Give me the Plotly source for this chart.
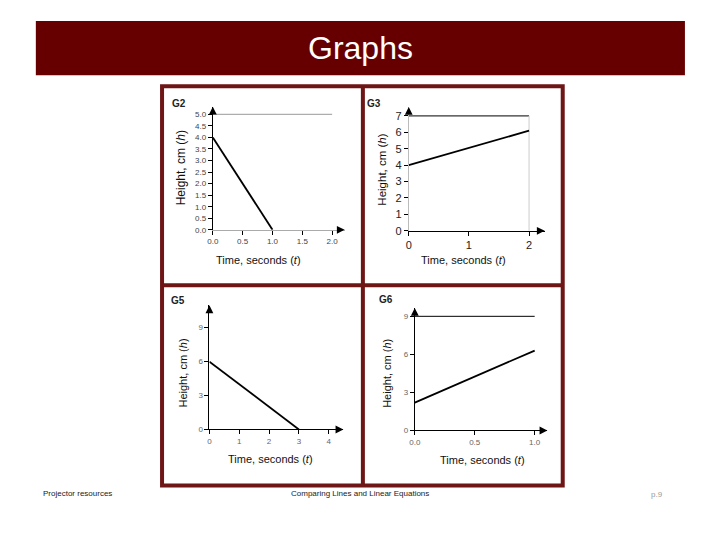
import plotly.graph_objects as go

# ---------------- data ----------------
g2_t = [0.0, 1.0]
g2_h = [4.0, 0.0]
g2_xticks = [0.0, 0.5, 1.0, 1.5, 2.0]
g2_yticks = [0.0, 0.5, 1.0, 1.5, 2.0, 2.5, 3.0, 3.5, 4.0, 4.5, 5.0]

g3_t = [0, 2]
g3_h = [4.0, 6.1]
g3_xticks = [0, 1, 2]
g3_yticks = [0, 1, 2, 3, 4, 5, 6, 7]

g5_t = [0, 3]
g5_h = [6, 0]
g5_xticks = [0, 1, 2, 3, 4]
g5_yticks = [0, 3, 6, 9]

g6_t = [0.0, 1.0]
g6_h = [2.2, 6.3]
g6_xticks = [0.0, 0.5, 1.0]
g6_yticks = [0, 3, 6, 9]

panel_names = ["G2", "G3", "G5", "G6"]
x_title = "Time, seconds (<i>t</i>)"
y_title = "Height, cm (<i>h</i>)"
slide_title = "Graphs"
footer_left = "Projector resources"
footer_center = "Comparing Lines and Linear Equations"
footer_right = "p.9"

# ---------------- layout helpers ----------------
W, H = 720, 540
# page placement correction (figure pixel -> photographed pixel)
SX, OX = 0.99, 14.2
SY, OY = 0.988, 7.9
def fx(x):
    return ((x - OX) / SX) / W
def fy(y):
    return 1 - ((y - OY) / SY) / H

FONT = "Liberation Sans, Arial, sans-serif"
MAROON = "#660000"
FRAME = "#6e1515"

panels = [
    dict(t=g2_t, h=g2_h, xt=g2_xticks, yt=g2_yticks, xdom=(212.7, 344.3), ydom=(229.5, 106.5),
         xmax=2.21, ymax=5.33, fmt=".1f", yfmt=".1f", tsize=8, tcol="#444444",
         xline="#aaaaaa", yline="#000000", top=("#999999", None),
         label=(179, 103), ytl=(181, 168), xtl=(258, 260), ytsize=12),
    dict(t=g3_t, h=g3_h, xt=g3_xticks, yt=g3_yticks, xdom=(408.3, 544.0), ydom=(230.5, 106.7),
         xmax=2.26, ymax=7.55, fmt="d", yfmt="d", tsize=11, tcol="#222222",
         xline="#000000", yline="#bbbbbb", top=("#000000", "#cccccc"),
         label=(374, 103), ytl=(382, 169), xtl=(463, 260), ytsize=11.5),
    dict(t=g5_t, h=g5_h, xt=g5_xticks, yt=g5_yticks, xdom=(209.3, 343.0), ydom=(429.0, 305.0),
         xmax=4.49, ymax=10.97, fmt="d", yfmt="d", tsize=8, tcol="#666666",
         xline="#000000", yline="#000000", top=None,
         label=(178, 300), ytl=(183, 373), xtl=(270, 458), ytsize=11),
    dict(t=g6_t, h=g6_h, xt=g6_xticks, yt=g6_yticks, xdom=(414.3, 546.7), ydom=(430.0, 307.7),
         xmax=1.106, ymax=9.65, fmt=".1f", yfmt="d", tsize=8, tcol="#666666",
         xline="#000000", yline="#000000", top=("#000000", None),
         label=(386, 299), ytl=(387, 373), xtl=(482, 459), ytsize=11),
]

fig = go.Figure()
layout = dict(width=W, height=H, margin=dict(l=0, r=0, t=0, b=0),
              paper_bgcolor="white", plot_bgcolor="rgba(0,0,0,0)",
              showlegend=False, font=dict(family=FONT, color="#000000"))
annotations = []
shapes = []

def txt(x, y, text, size, color, family=FONT, xanchor="center", angle=0):
    return dict(x=fx(x), y=fy(y), xref="paper", yref="paper", text=text,
                xanchor=xanchor, yanchor="middle", textangle=angle, showarrow=False,
                font=dict(size=size, color=color, family=family))

for i, p in enumerate(panels):
    n = "" if i == 0 else str(i + 1)
    xa, ya = "x" + n, "y" + n
    # reference lines along top / right of the chart box
    if p["top"] is not None:
        tc, rc = p["top"]
        fig.add_trace(go.Scatter(x=[p["xt"][0], p["xt"][-1]], y=[p["yt"][-1], p["yt"][-1]],
                                 mode="lines", line=dict(color=tc, width=1),
                                 xaxis=xa, yaxis=ya, hoverinfo="skip"))
        if rc is not None:
            fig.add_trace(go.Scatter(x=[p["xt"][-1], p["xt"][-1]], y=[p["yt"][0], p["yt"][-1]],
                                     mode="lines", line=dict(color=rc, width=1),
                                     xaxis=xa, yaxis=ya, hoverinfo="skip"))
    # data line
    fig.add_trace(go.Scatter(x=p["t"], y=p["h"], mode="lines",
                             line=dict(color="#000000", width=1.8),
                             xaxis=xa, yaxis=ya, cliponaxis=False))
    common = dict(ticks="outside", ticklen=4, tickwidth=1, tickcolor="#000000",
                  showgrid=False, zeroline=False, showline=True, linewidth=1,
                  tickfont=dict(size=p["tsize"], color=p["tcol"], family=FONT))
    layout["xaxis" + n] = dict(domain=[fx(p["xdom"][0]), fx(p["xdom"][1])],
                               range=[0, p["xmax"]], anchor=ya,
                               tickvals=p["xt"], tickformat=p["fmt"],
                               linecolor=p["xline"], **common)
    layout["yaxis" + n] = dict(domain=[fy(p["ydom"][0]), fy(p["ydom"][1])],
                               range=[0, p["ymax"]], anchor=xa,
                               tickvals=p["yt"], tickformat=p["yfmt"],
                               linecolor=p["yline"], **common)
    # arrow heads at axis ends
    annotations.append(dict(x=p["xmax"], y=0, ax=p["xmax"] * 0.97, ay=0,
                            xref=xa, yref=ya, axref=xa, ayref=ya, text="",
                            showarrow=True, arrowhead=2, arrowsize=1.3, arrowwidth=1.2,
                            arrowcolor="#000000"))
    annotations.append(dict(x=0, y=p["ymax"], ax=0, ay=p["ymax"] * 0.97,
                            xref=xa, yref=ya, axref=xa, ayref=ya, text="",
                            showarrow=True, arrowhead=2, arrowsize=1.3, arrowwidth=1.2,
                            arrowcolor="#000000"))
    annotations.append(txt(p["label"][0], p["label"][1], "<b>" + panel_names[i] + "</b>", 10, "#222222"))
    annotations.append(txt(p["ytl"][0], p["ytl"][1], y_title, p["ytsize"], "#111111", angle=-90))
    annotations.append(txt(p["xtl"][0], p["xtl"][1], x_title, 11, "#111111"))

# title bar
shapes.append(dict(type="rect", xref="paper", yref="paper",
                   x0=fx(36), x1=fx(684), y0=fy(75), y1=fy(21),
                   fillcolor=MAROON, line=dict(width=0), layer="below"))
annotations.append(txt(360, 48, slide_title, 32, "white"))

# maroon frame around the four graphs
shapes.append(dict(type="rect", xref="paper", yref="paper",
                   x0=fx(162), x1=fx(562), y0=fy(485), y1=fy(86),
                   line=dict(color=FRAME, width=4), fillcolor="rgba(0,0,0,0)"))
shapes.append(dict(type="line", xref="paper", yref="paper",
                   x0=fx(362.5), x1=fx(362.5), y0=fy(485), y1=fy(86),
                   line=dict(color=FRAME, width=4)))
shapes.append(dict(type="line", xref="paper", yref="paper",
                   x0=fx(162), x1=fx(562), y0=fy(285), y1=fy(285),
                   line=dict(color=FRAME, width=4)))

# footer
FOOT = "Liberation Sans Narrow, Arial Narrow, Liberation Sans, Arial"
annotations.append(txt(41, 493, footer_left, 8, "#222222", family=FOOT, xanchor="left"))
annotations.append(txt(360, 493, footer_center, 8, "#222222", family=FOOT))
annotations.append(txt(656, 494, footer_right, 8, "#999999", family=FOOT))

layout["annotations"] = annotations
layout["shapes"] = shapes
fig.update_layout(**layout)
fig.write_html("out.html")
